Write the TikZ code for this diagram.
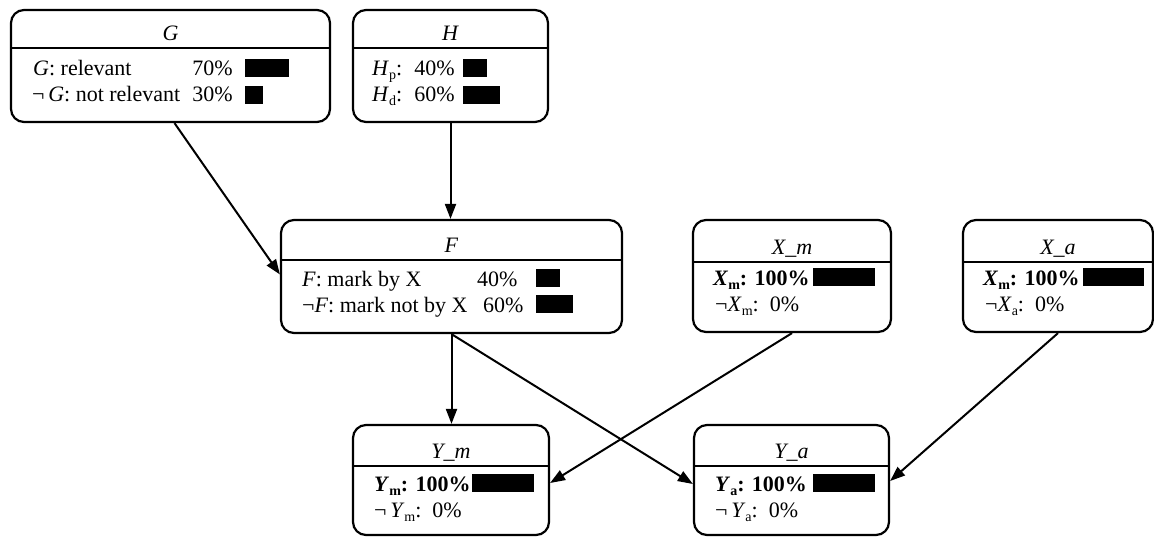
\documentclass[tikz,border=0pt]{standalone}
\usepackage{fontspec}
\setmainfont{Liberation Serif}
\usetikzlibrary{arrows.meta,fit}
\newcommand\lsub[1]{\raisebox{-4.5pt}{\fontsize{14}{14}\selectfont #1}}
\newcommand\netbox[7]{%
  \node[nbox, fit={(#2,#3) (#4,#5)}] (#1) {};
  \draw[sepline] (#2,#6) -- (#4,#6);
  \node[txt, anchor=base] (#1-title) at ({(#2+#4)/2},{#6-8}) {\textit{#7}};
}
\tikzset{
  nbox/.style={draw, line width=2.2pt, rounded corners=13pt, inner sep=0pt},
  sepline/.style={line width=1.8pt},
  txt/.style={inner sep=0pt, font=\fontsize{22}{26}\selectfont},
  arr/.style={line width=2pt, -{Triangle[length=15pt,width=11pt]}},
}
\begin{document}
\begin{tikzpicture}[x=1pt,y=-1pt]
\useasboundingbox (0,0) rectangle (1154,538);

% G
\netbox{g}{11}{10}{330}{122}{48}{G}
\node[txt, anchor=base west] (g1) at (33,75) {\textit{G}: relevant};
\node[txt, anchor=base east] (g1p) at (233,75) {70\%};
\fill (245,59) rectangle (289,77);
\node[txt, anchor=base west] (g2) at (32,101) {¬\,\textit{G}: not relevant};
\node[txt, anchor=base east] (g2p) at (233,101) {30\%};
\fill (245,86) rectangle (263,104);

% H
\netbox{h}{353}{10}{548}{122}{48}{H}
\node[txt, anchor=base west] (h1) at (372,75) {\textit{H}\lsub{p}:};
\node[txt, anchor=base east] (h1p) at (455,75) {40\%};
\fill (463,59) rectangle (487,77);
\node[txt, anchor=base west] (h2) at (372,101) {\textit{H}\lsub{d}:};
\node[txt, anchor=base east] (h2p) at (455,101) {60\%};
\fill (463,86) rectangle (500,104);

% F
\netbox{f}{281}{220}{622}{333}{260}{F}
\node[txt, anchor=base west] (f1) at (302,286) {\textit{F}: mark by X};
\node[txt, anchor=base west] (f1p) at (477,286) {40\%};
\fill (536,269) rectangle (560,287);
\node[txt, anchor=base west] (f2) at (302,312) {¬\textit{F}: mark not by X};
\node[txt, anchor=base west] (f2p) at (483,312) {60\%};
\fill (536,295) rectangle (573,313);

% X_m
\netbox{xm}{693}{220}{891}{332}{262}{X\_m}
\node[txt, anchor=base west] (xm1) at (713,285) {\textbf{\textit{X}\lsub{m}: 100\%}};
\fill (813,268) rectangle (875,286);
\node[txt, anchor=base west] (xm2) at (715,311) {¬\textit{X}\lsub{m}:\ \ 0\%};

% X_a
\netbox{xa}{963}{220}{1153}{332}{262}{X\_a}
\node[txt, anchor=base west] (xa1) at (983,285) {\textbf{\textit{X}\lsub{m}: 100\%}};
\fill (1083,268) rectangle (1144,286);
\node[txt, anchor=base west] (xa2) at (985,311) {¬\textit{X}\lsub{a}:\ \ 0\%};

% Y_m
\netbox{ym}{353}{425}{549}{535}{466}{Y\_m}
\node[txt, anchor=base west] (ym1) at (374,491) {\textbf{\textit{Y}\lsub{m}: 100\%}};
\fill (472,474) rectangle (534,492);
\node[txt, anchor=base west] (ym2) at (374,517) {¬\,\textit{Y}\lsub{m}:\ \ 0\%};

% Y_a
\netbox{ya}{694}{425}{889}{535}{466}{Y\_a}
\node[txt, anchor=base west] (ya1) at (715,491) {\textbf{\textit{Y}\lsub{a}: 100\%}};
\fill (813,474) rectangle (875,492);
\node[txt, anchor=base west] (ya2) at (715,517) {¬\,\textit{Y}\lsub{a}:\ \ 0\%};

% connectors
\draw[arr] ([xshift=4pt]g.south) -- ([yshift=2pt]f.west);
\draw[arr] (h.south) -- (h.south |- f.north);
\draw[arr] (f.south) -- (f.south |- ym.north);
\draw[arr] (f.south) -- ([yshift=-4pt]ya.west);
\draw[arr] (xm.south) -- ([yshift=-3pt]ym.east);
\draw[arr] (xa.south) -- ([yshift=-1pt]ya.east);
\end{tikzpicture}
\end{document}
